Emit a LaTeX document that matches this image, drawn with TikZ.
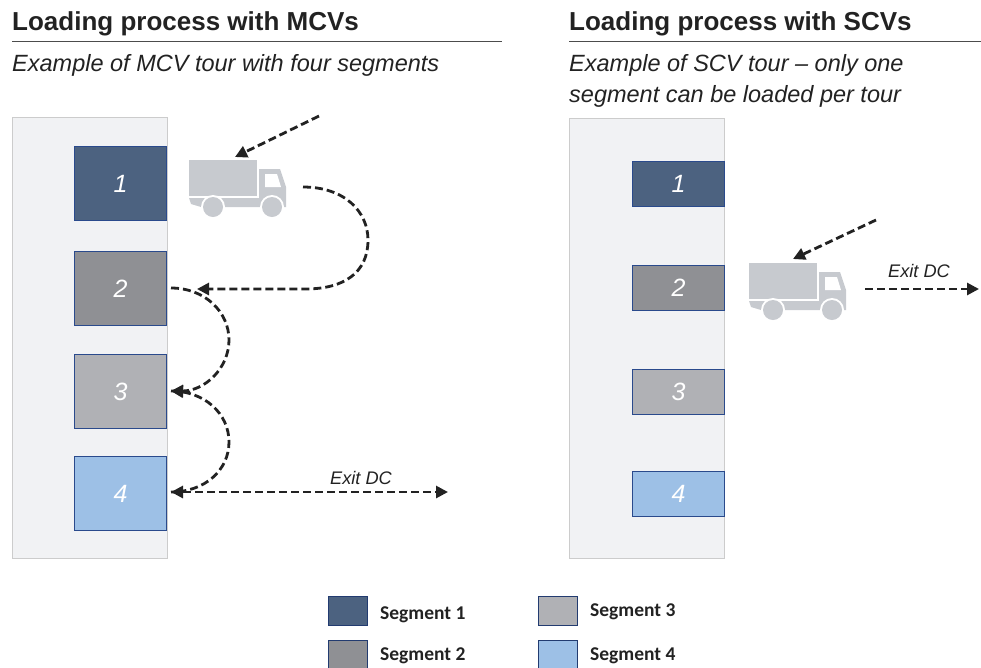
\documentclass[tikz,border=0pt]{standalone}
\usepackage{fontspec}
\setmainfont{Liberation Sans}
\newfontfamily\legendfont{Carlito}
\usetikzlibrary{arrows.meta}
\definecolor{seg1}{HTML}{4C6280}
\definecolor{seg2}{HTML}{8F9094}
\definecolor{seg3}{HTML}{B0B1B5}
\definecolor{seg4}{HTML}{9DC0E6}
\definecolor{panelc}{HTML}{F1F2F4}
\definecolor{edgec}{HTML}{2A4A8C}
\definecolor{truckc}{HTML}{C7CACF}
\definecolor{inkc}{HTML}{222222}
\tikzset{
  x=1pt,y=-1pt,
  titletext/.style={font=\bfseries\fontsize{26}{30}\selectfont,anchor=base west,inner sep=0,text=inkc},
  subtext/.style={font=\itshape\fontsize{23.5}{31}\selectfont,anchor=base west,inner sep=0,text=inkc},
  panelbox/.style={draw=black!20,fill=panelc,line width=.8pt,minimum width=155pt,inner sep=0,anchor=north west},
  segbox/.style={draw=edgec,line width=.9pt,inner sep=0,anchor=north west,text=white,font=\itshape\fontsize{25}{28}\selectfont,minimum width=92pt},
  swatch/.style={draw=edgec!80!black,line width=.9pt,inner sep=0,anchor=north west,minimum width=39pt,minimum height=29pt},
  legendtext/.style={font=\legendfont\bfseries\fontsize{19.5}{22}\selectfont,anchor=base west,inner sep=0,text=inkc},
  exittext/.style={font=\itshape\fontsize{18.2}{22}\selectfont,anchor=base west,inner sep=0,text=inkc},
  flow/.style={draw=inkc,line width=2.8pt,dash pattern=on 8pt off 4pt,-{Triangle[length=12pt,width=12pt]}},
  flowplain/.style={draw=inkc,line width=2.8pt,dash pattern=on 8pt off 4pt},
  truckpic/.pic={
    \fill[truckc] (0,0) rectangle (68,36);
    \fill[truckc] (0,38) -- (70,38) -- (70,9) -- (91,9) -- (97,27) -- (97,47) -- (12,47) -- (2,44) -- cycle;
    \fill[white] (76,14) -- (88,14) -- (92,27) -- (76,27) -- cycle;
    \fill[white] (24,47) circle (12);
    \fill[white] (83,47) circle (12);
    \fill[truckc] (24,47) circle (10);
    \fill[truckc] (83,47) circle (10);
  }
}
\begin{document}
\begin{tikzpicture}
\useasboundingbox (0,0) rectangle (981,667);
% titles
\node[titletext] (t1) at (12,30) {Loading process with MCVs};
\node[titletext] (t2) at (569,30) {Loading process with SCVs};
\coordinate (r1a) at (12,41); \coordinate (r1b) at (502,41);
\coordinate (r2a) at (569,41); \coordinate (r2b) at (981,41);
\draw[black!70,line width=.9pt] (r1a) -- (r1b);
\draw[black!70,line width=.9pt] (r2a) -- (r2b);
\node[subtext] (s1) at (12,71) {Example of MCV tour with four segments};
\node[subtext] (s2a) at (569,71) {Example of SCV tour -- only one};
\node[subtext] (s2b) at (569,102) {segment can be loaded per tour};
% panels
\node[panelbox,minimum height=441pt] (p1) at (12,117) {};
\node[panelbox,minimum height=440pt] (p2) at (569,118) {};
% left boxes
\node[segbox,fill=seg1,minimum height=74pt] (a1) at (74,146) {1};
\node[segbox,fill=seg2,minimum height=74pt] (a2) at (74,251) {2};
\node[segbox,fill=seg3,minimum height=74pt] (a3) at (74,354) {3};
\node[segbox,fill=seg4,minimum height=74pt] (a4) at (74,456) {4};
% right boxes
\node[segbox,fill=seg1,minimum height=45pt] (b1) at (632,161) {1};
\node[segbox,fill=seg2,minimum height=45pt] (b2) at (632,265) {2};
\node[segbox,fill=seg3,minimum height=45pt] (b3) at (632,369) {3};
\node[segbox,fill=seg4,minimum height=45pt] (b4) at (632,471) {4};
% trucks
\pic at (189,160) {truckpic};
\pic at (749,263) {truckpic};
% left connectors
\coordinate (in1) at (319,116);
\coordinate (tr1) at (235,157);
\draw[flow] (in1) -- (tr1);
\coordinate (tr1out) at (303,187);
\coordinate (a2in) at (197,289);
\coordinate (a2out) at (171,288);
\coordinate (a3in) at (171,391);
\coordinate (a4in) at (171,492);
\coordinate (exit1) at (448,492);
\draw[flow] (tr1out) .. controls (345,187) and (368,212) .. (368,240)
   .. controls (368,272) and (345,289) .. (305,289) -- (a2in);
\draw[flow] (a2out) .. controls (205,288) and (229,312) .. (229,340)
   .. controls (229,368) and (205,391) .. (a3in);
\draw[flowplain] (a3in) .. controls (205,391) and (229,414) .. (229,442)
   .. controls (229,470) and (205,492) .. (a4in);
\draw[flow] (190,492) -- (a4in);
\draw[flow] (190,392) -- (a3in);
\draw[flow] (a4in) -- (exit1);
\node[exittext] (e1) at (330,484) {Exit DC};
% right connectors
\coordinate (in2) at (876,220);
\coordinate (tr2) at (793,259);
\draw[flow] (in2) -- (tr2);
\coordinate (out2a) at (865,289);
\coordinate (out2b) at (979,289);
\draw[flow] (out2a) -- (out2b);
\node[exittext] (e2) at (888,277) {Exit DC};
% legend
\node[swatch,fill=seg1] (l1) at (328,596) {};
\node[swatch,fill=seg2] (l2) at (328,640) {};
\node[swatch,fill=seg3] (l3) at (538,596) {};
\node[swatch,fill=seg4] (l4) at (538,640) {};
\node[legendtext] (lt1) at (380,619) {Segment 1};
\node[legendtext] (lt2) at (380,660) {Segment 2};
\node[legendtext] (lt3) at (590,616) {Segment 3};
\node[legendtext] (lt4) at (590,660) {Segment 4};
\end{tikzpicture}
\end{document}
